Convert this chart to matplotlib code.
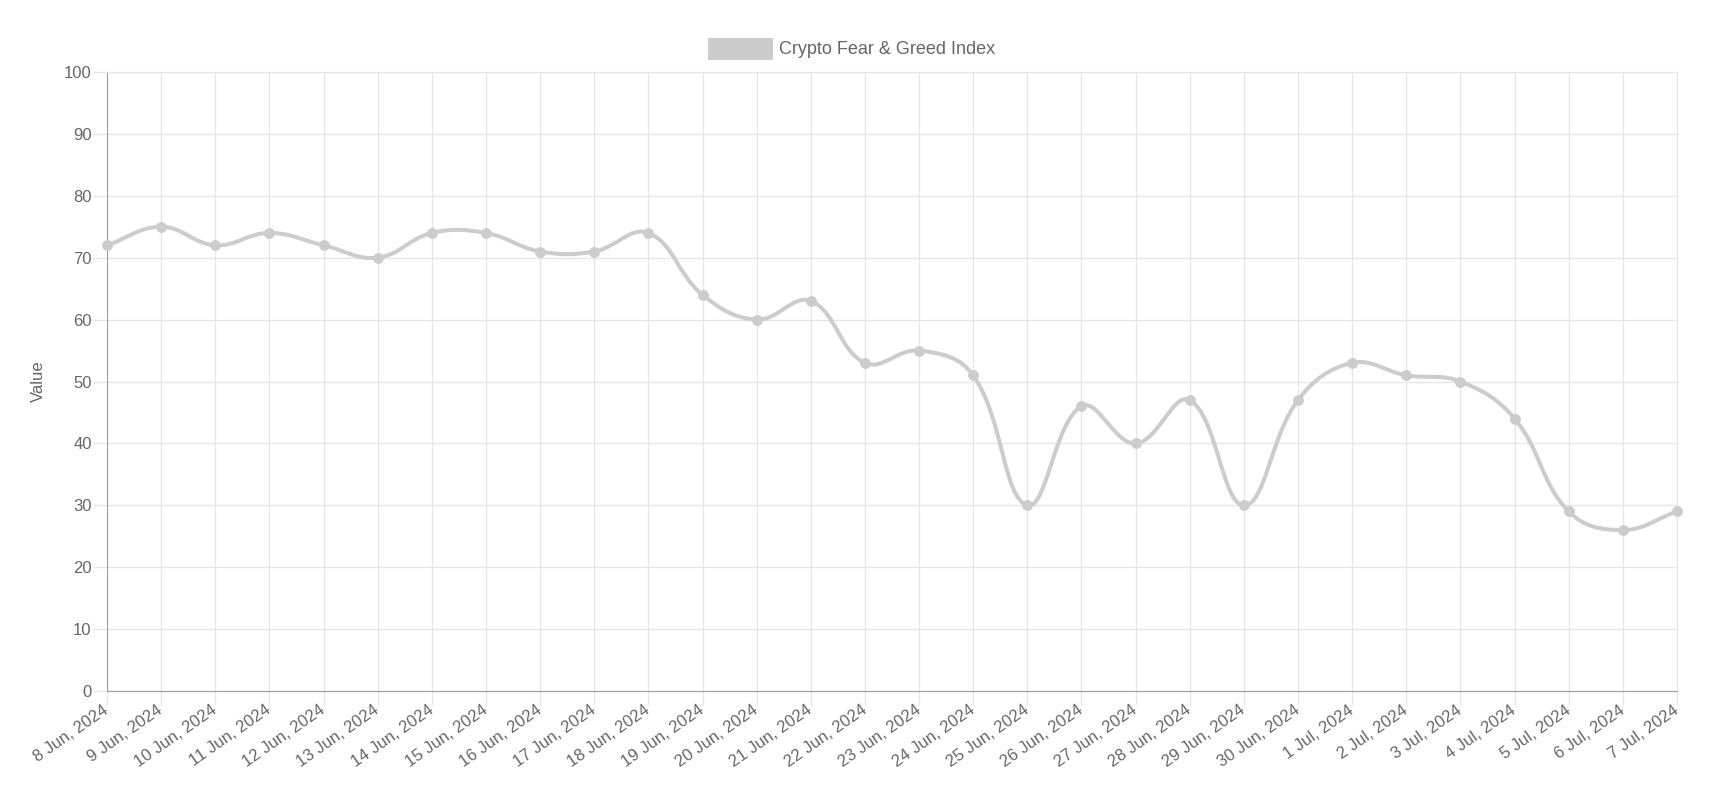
import matplotlib
matplotlib.use("Agg")
import matplotlib.pyplot as plt
import numpy as np
from matplotlib.path import Path
from matplotlib.patches import PathPatch, Rectangle

dates = ["8 Jun, 2024", "9 Jun, 2024", "10 Jun, 2024", "11 Jun, 2024", "12 Jun, 2024",
         "13 Jun, 2024", "14 Jun, 2024", "15 Jun, 2024", "16 Jun, 2024", "17 Jun, 2024",
         "18 Jun, 2024", "19 Jun, 2024", "20 Jun, 2024", "21 Jun, 2024", "22 Jun, 2024",
         "23 Jun, 2024", "24 Jun, 2024", "25 Jun, 2024", "26 Jun, 2024", "27 Jun, 2024",
         "28 Jun, 2024", "29 Jun, 2024", "30 Jun, 2024", "1 Jul, 2024", "2 Jul, 2024",
         "3 Jul, 2024", "4 Jul, 2024", "5 Jul, 2024", "6 Jul, 2024", "7 Jul, 2024"]
values = [72, 75, 72, 74, 72, 70, 74, 74, 71, 71,
          74, 64, 60, 63, 53, 55, 51, 30, 46, 40,
          47, 30, 47, 53, 51, 50, 44, 29, 26, 29]
series_name = "Crypto Fear & Greed Index"
y_ticks = list(range(0, 101, 10))

plt.rcParams['font.family'] = ['Liberation Sans', 'DejaVu Sans']
TXT = '#666666'
GRID = '#e6e6e6'
AXIS = '#a0a0a0'
LINE = '#cccccc'

W, H = 1710, 799
fig = plt.figure(figsize=(W / 100, H / 100), dpi=100)
L, R, T, B = 107, 1677, 72, 691
ax = fig.add_axes([L / W, (H - B) / H, (R - L) / W, (B - T) / H])

x = np.arange(len(values))
y = np.array(values, dtype=float)
ax.set_xlim(0, len(values) - 1)
ax.set_ylim(0, 100)

# Chart.js-style bezier spline (tension 0.4) computed in pixel space
fig.canvas.draw()
pts = ax.transData.transform(np.column_stack([x, y]))
t = 0.4
n = len(pts)
cp_prev = np.zeros_like(pts)
cp_next = np.zeros_like(pts)
for i in range(n):
    cur = pts[i]
    prv = pts[i - 1] if i > 0 else cur
    nxt = pts[i + 1] if i < n - 1 else cur
    d01 = np.hypot(*(cur - prv))
    d12 = np.hypot(*(nxt - cur))
    tot = d01 + d12
    s01 = d01 / tot if tot else 0
    s12 = d12 / tot if tot else 0
    cp_prev[i] = cur - t * s01 * (nxt - prv)
    cp_next[i] = cur + t * s12 * (nxt - prv)
# cap within chart area
bb = ax.bbox
for arr in (cp_prev, cp_next):
    arr[:, 0] = np.clip(arr[:, 0], bb.x0, bb.x1)
    arr[:, 1] = np.clip(arr[:, 1], bb.y0, bb.y1)
inv = ax.transData.inverted()
verts = [tuple(inv.transform(pts[0]))]
codes = [Path.MOVETO]
for i in range(n - 1):
    verts += [tuple(inv.transform(cp_next[i])), tuple(inv.transform(cp_prev[i + 1])),
              tuple(inv.transform(pts[i + 1]))]
    codes += [Path.CURVE4] * 3
ax.add_patch(PathPatch(Path(verts, codes), fill=False, edgecolor=LINE, lw=2.9,
                       capstyle='round', joinstyle='round', zorder=3, clip_on=False))
ax.plot(x, y, 'o', color=LINE, ms=6.8, mec=LINE, zorder=4, clip_on=False)

ax.set_xticks(x)
ax.set_xticklabels(dates, rotation=35, ha='right', va='center', rotation_mode='anchor')
ax.set_yticks(y_ticks)
ax.grid(True, color=GRID, lw=1)
ax.set_axisbelow(True)
ax.tick_params(axis='both', colors=GRID, length=10, width=1, labelcolor=TXT, labelsize=12)
ax.tick_params(axis='x', pad=2.5)
ax.tick_params(axis='y', pad=1)
for s in ('top', 'right'):
    ax.spines[s].set_color(GRID)
for s in ('left', 'bottom'):
    ax.spines[s].set_color(AXIS)
ax.set_ylabel("Value", color=TXT, fontsize=12, labelpad=13)

# legend
fig.patches.append(Rectangle((708 / W, 1 - 60 / H), 65 / W, 22 / H, transform=fig.transFigure,
                             facecolor=LINE, edgecolor='none'))
fig.text(779 / W, 1 - 49 / H, series_name, color=TXT, fontsize=13, ha='left', va='center')

fig.savefig("out.png", dpi=100)
